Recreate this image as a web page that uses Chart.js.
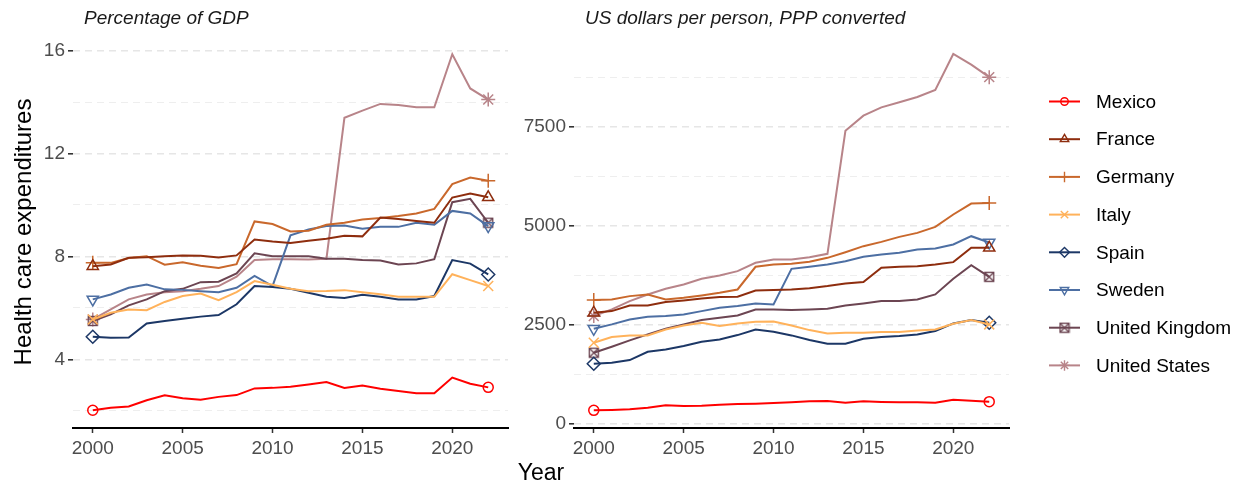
<!DOCTYPE html>
<html>
<head>
<meta charset="utf-8">
<script src="https://cdn.jsdelivr.net/npm/chart.js@4.4.1/dist/chart.umd.min.js"></script>
<style>
  html,body{margin:0;padding:0;background:#fff;}
  #wrap{position:relative;width:1244px;height:485px;overflow:hidden;font-family:"Liberation Sans",Arial,sans-serif;}
  canvas{position:absolute;top:0;}
  .sub{position:absolute;font-style:italic;font-size:19px;color:#1a1a1a;white-space:nowrap;}
  #xtitle{position:absolute;font-size:23px;color:#000;left:541px;top:459px;transform:translateX(-50%);}
</style>
</head>
<body>
<div id="wrap">
  <canvas id="cGdp" style="left:0" width="520" height="485"></canvas>
  <canvas id="cUsd" style="left:520px" width="724" height="485"></canvas>
  <div class="sub" style="left:84px;top:7px">Percentage of GDP</div>
  <div class="sub" style="left:585px;top:7px">US dollars per person, PPP converted</div>
  <div id="xtitle">Year</div>
</div>
<script>
// ===== 資料 =====
const years=[2000,2001,2002,2003,2004,2005,2006,2007,2008,2009,2010,2011,2012,2013,2014,2015,2016,2017,2018,2019,2020,2021,2022];
const countries=['Mexico','France','Germany','Italy','Spain','Sweden','United Kingdom','United States'];

// % of GDP
const gdpMexico =[2.02,2.12,2.17,2.41,2.60,2.49,2.43,2.54,2.61,2.87,2.89,2.93,3.02,3.12,2.89,2.98,2.86,2.77,2.68,2.68,3.29,3.05,2.91];
const gdpFrance =[7.62,7.69,7.95,7.97,8.01,8.04,8.03,7.96,8.04,8.66,8.58,8.52,8.61,8.69,8.80,8.78,9.51,9.46,9.38,9.31,10.29,10.45,10.30];
const gdpGermany=[7.75,7.75,7.94,8.01,7.68,7.77,7.64,7.55,7.70,9.36,9.26,8.97,9.00,9.23,9.31,9.44,9.49,9.57,9.67,9.85,10.81,11.07,10.94];
const gdpItaly  =[5.55,5.81,5.94,5.91,6.23,6.46,6.56,6.30,6.61,7.04,6.90,6.74,6.65,6.66,6.69,6.61,6.53,6.43,6.43,6.43,7.31,7.08,6.85];
const gdpSpain  =[4.88,4.84,4.85,5.39,5.49,5.58,5.66,5.72,6.14,6.85,6.81,6.74,6.59,6.43,6.38,6.51,6.43,6.33,6.33,6.46,7.86,7.72,7.30];
const gdpSweden =[6.33,6.52,6.78,6.91,6.72,6.70,6.65,6.61,6.78,7.24,6.85,8.82,9.05,9.18,9.20,9.08,9.15,9.15,9.31,9.23,9.77,9.67,9.18];
const gdpUK     =[5.49,5.75,6.10,6.33,6.65,6.74,7.00,7.02,7.34,8.12,8.01,8.01,8.01,7.91,7.91,7.86,7.84,7.69,7.73,7.89,10.11,10.24,9.31];
const gdpUS     =[5.55,5.94,6.33,6.52,6.61,6.65,6.74,6.85,7.21,7.86,7.89,7.89,7.88,7.91,13.39,13.67,13.93,13.89,13.80,13.80,15.86,14.53,14.10];

// USD per person, PPP
const usdMexico =[337,345,362,404,463,446,455,480,497,505,522,539,564,572,530,564,547,539,539,530,606,581,556];
const usdFrance =[2803,2845,2988,2988,3073,3115,3165,3199,3207,3367,3376,3392,3426,3477,3544,3578,3940,3965,3982,4024,4083,4445,4445];
const usdGermany=[3123,3140,3224,3266,3140,3182,3241,3308,3392,3965,4024,4041,4091,4192,4335,4487,4596,4722,4823,4975,5287,5564,5581];
const usdItaly  =[2046,2189,2231,2231,2382,2483,2551,2466,2534,2576,2584,2483,2365,2281,2298,2298,2315,2315,2357,2382,2525,2618,2509];
const usdSpain  =[1515,1540,1608,1818,1877,1961,2071,2130,2239,2382,2323,2231,2113,2020,2020,2147,2189,2214,2256,2340,2534,2618,2551];
const usdSweden =[2399,2509,2635,2702,2719,2761,2845,2929,2972,3039,3014,3914,3965,4024,4108,4217,4276,4318,4403,4428,4529,4739,4580];
const usdUK     =[1793,1945,2105,2256,2399,2509,2618,2677,2736,2887,2887,2871,2887,2904,2988,3039,3098,3098,3140,3266,3662,4007,3712];
const usdUS     =[2719,2887,3098,3266,3409,3519,3662,3746,3855,4066,4150,4150,4209,4293,7405,7787,7997,8123,8258,8435,9345,9075,8760];

const xTicks=[2000,2005,2010,2015,2020];
const gdpTicks=[4,8,12,16], gdpMinor=[2,6,10,14];
const usdTicks=[0,2500,5000,7500], usdMinor=[1250,3750,6250,8750];

// ===== 樣式 =====
const COLORS=['#FF0000','#8E2D0E','#C9682C','#FFB25B','#1C3766','#4D6FA3','#6C4552','#B88489'];
const boxCross=c=>{ const cv=document.createElement('canvas'); cv.width=cv.height=12; const g=cv.getContext('2d');
  g.strokeStyle=c; g.lineWidth=1.4; g.strokeRect(1.5,1.5,9,9); g.beginPath(); g.moveTo(1.5,1.5); g.lineTo(10.5,10.5); g.moveTo(10.5,1.5); g.lineTo(1.5,10.5); g.stroke(); return cv; };
const SHAPES=[
  {style:'circle',rot:0,r:5},
  {style:'triangle',rot:0,r:6.5},
  {style:'cross',rot:0,r:7},
  {style:'crossRot',rot:0,r:7},
  {style:'rectRot',rot:0,r:6.5},
  {style:'triangle',rot:180,r:6.5},
  {style:boxCross(COLORS[6]),rot:0,r:6},
  {style:'star',rot:0,r:7}
];
const FONT='"Liberation Sans", Arial, sans-serif';
const TICK_GREY='#4D4D4D';

function mkSets(series){
  return series.map((vals,i)=>({
    label:countries[i], data:years.map((y,j)=>({x:y,y:vals[j]})),
    borderColor:COLORS[i], borderWidth:2, tension:0,
    pointStyle:SHAPES[i].style, pointRotation:SHAPES[i].rot,
    pointRadius:c=>(c.dataIndex===0||c.dataIndex===years.length-1)?SHAPES[i].r:0,
    pointHoverRadius:0,
    pointBorderColor:COLORS[i], pointBackgroundColor:'rgba(0,0,0,0)', pointBorderWidth:1.5
  }));
}

function mkOptions(opt){
  const majors=new Set(opt.major);
  return {
    responsive:false, animation:false,
    layout:{padding:{top:36,right:opt.padRight,left:0,bottom:0}},
    plugins:{legend:{display:false},tooltip:{enabled:false}},
    scales:{
      x:{type:'linear',min:1998.9,max:2023.1,
        afterBuildTicks:s=>{ s.ticks=xTicks.map(v=>({value:v})); },
        afterFit:s=>{ s.height=57; },
        ticks:{color:TICK_GREY,font:{family:FONT,size:19},padding:4,maxRotation:0,callback:v=>String(v)},
        grid:{display:true,drawOnChartArea:false,drawTicks:true,tickLength:5,tickColor:'#333',tickWidth:1.5},
        border:{display:true,color:'#000',width:2}
      },
      y:{type:'linear',min:opt.min,max:opt.max,
        afterBuildTicks:s=>{ s.ticks=[...opt.major,...opt.minor].sort((a,b)=>a-b).map(v=>({value:v})); },
        afterFit:s=>{ s.width=opt.axisW; },
        ticks:{color:TICK_GREY,font:{family:FONT,size:19},padding:3,callback:v=>majors.has(v)?String(v):''},
        title:{display:!!opt.title,text:opt.title||'',color:'#000',font:{family:FONT,size:24},padding:{top:10,bottom:6}},
        grid:{display:true,drawOnChartArea:true,drawTicks:true,tickLength:5,
          color:c=>majors.has(c.tick.value)?'#E6E6E6':'#EEEEEE',
          lineWidth:c=>majors.has(c.tick.value)?1.6:1,
          tickColor:c=>majors.has(c.tick.value)?'#333':'rgba(0,0,0,0)',tickWidth:1.6},
        border:{display:false,dash:[7,5]}
      }
    }
  };
}

// ===== 圖例 =====
const legendPlugin={ id:'sideLegend', afterDraw(chart){
  const ctx=chart.ctx; ctx.save();
  chart.data.datasets.forEach((d,i)=>{
    const y=101.5+i*37.7;
    ctx.strokeStyle=COLORS[i]; ctx.lineWidth=2; ctx.setLineDash([]);
    ctx.beginPath(); ctx.moveTo(529,y); ctx.lineTo(560,y); ctx.stroke();
    ctx.lineWidth=1.4; ctx.fillStyle='rgba(0,0,0,0)';
    Chart.helpers.drawPoint(ctx,{pointStyle:SHAPES[i].style,rotation:SHAPES[i].rot,radius:SHAPES[i].r*0.75,borderWidth:1.4},544.5,y);
    ctx.fillStyle='#000'; ctx.font='19px '+FONT; ctx.textBaseline='middle'; ctx.textAlign='left';
    ctx.fillText(d.label,576,y+1);
  });
  ctx.restore();
}};

new Chart(document.getElementById('cGdp'),{type:'line',
  data:{datasets:mkSets([gdpMexico,gdpFrance,gdpGermany,gdpItaly,gdpSpain,gdpSweden,gdpUK,gdpUS])},
  options:mkOptions({min:1.33,max:16.57,major:gdpTicks,minor:gdpMinor,axisW:73,padRight:12,title:'Health care expenditures'})});

new Chart(document.getElementById('cUsd'),{type:'line',
  data:{datasets:mkSets([usdMexico,usdFrance,usdGermany,usdItaly,usdSpain,usdSweden,usdUK,usdUS])},
  options:mkOptions({min:-110,max:9800,major:usdTicks,minor:usdMinor,axisW:54,padRight:235}),
  plugins:[legendPlugin]});
</script>
</body>
</html>
